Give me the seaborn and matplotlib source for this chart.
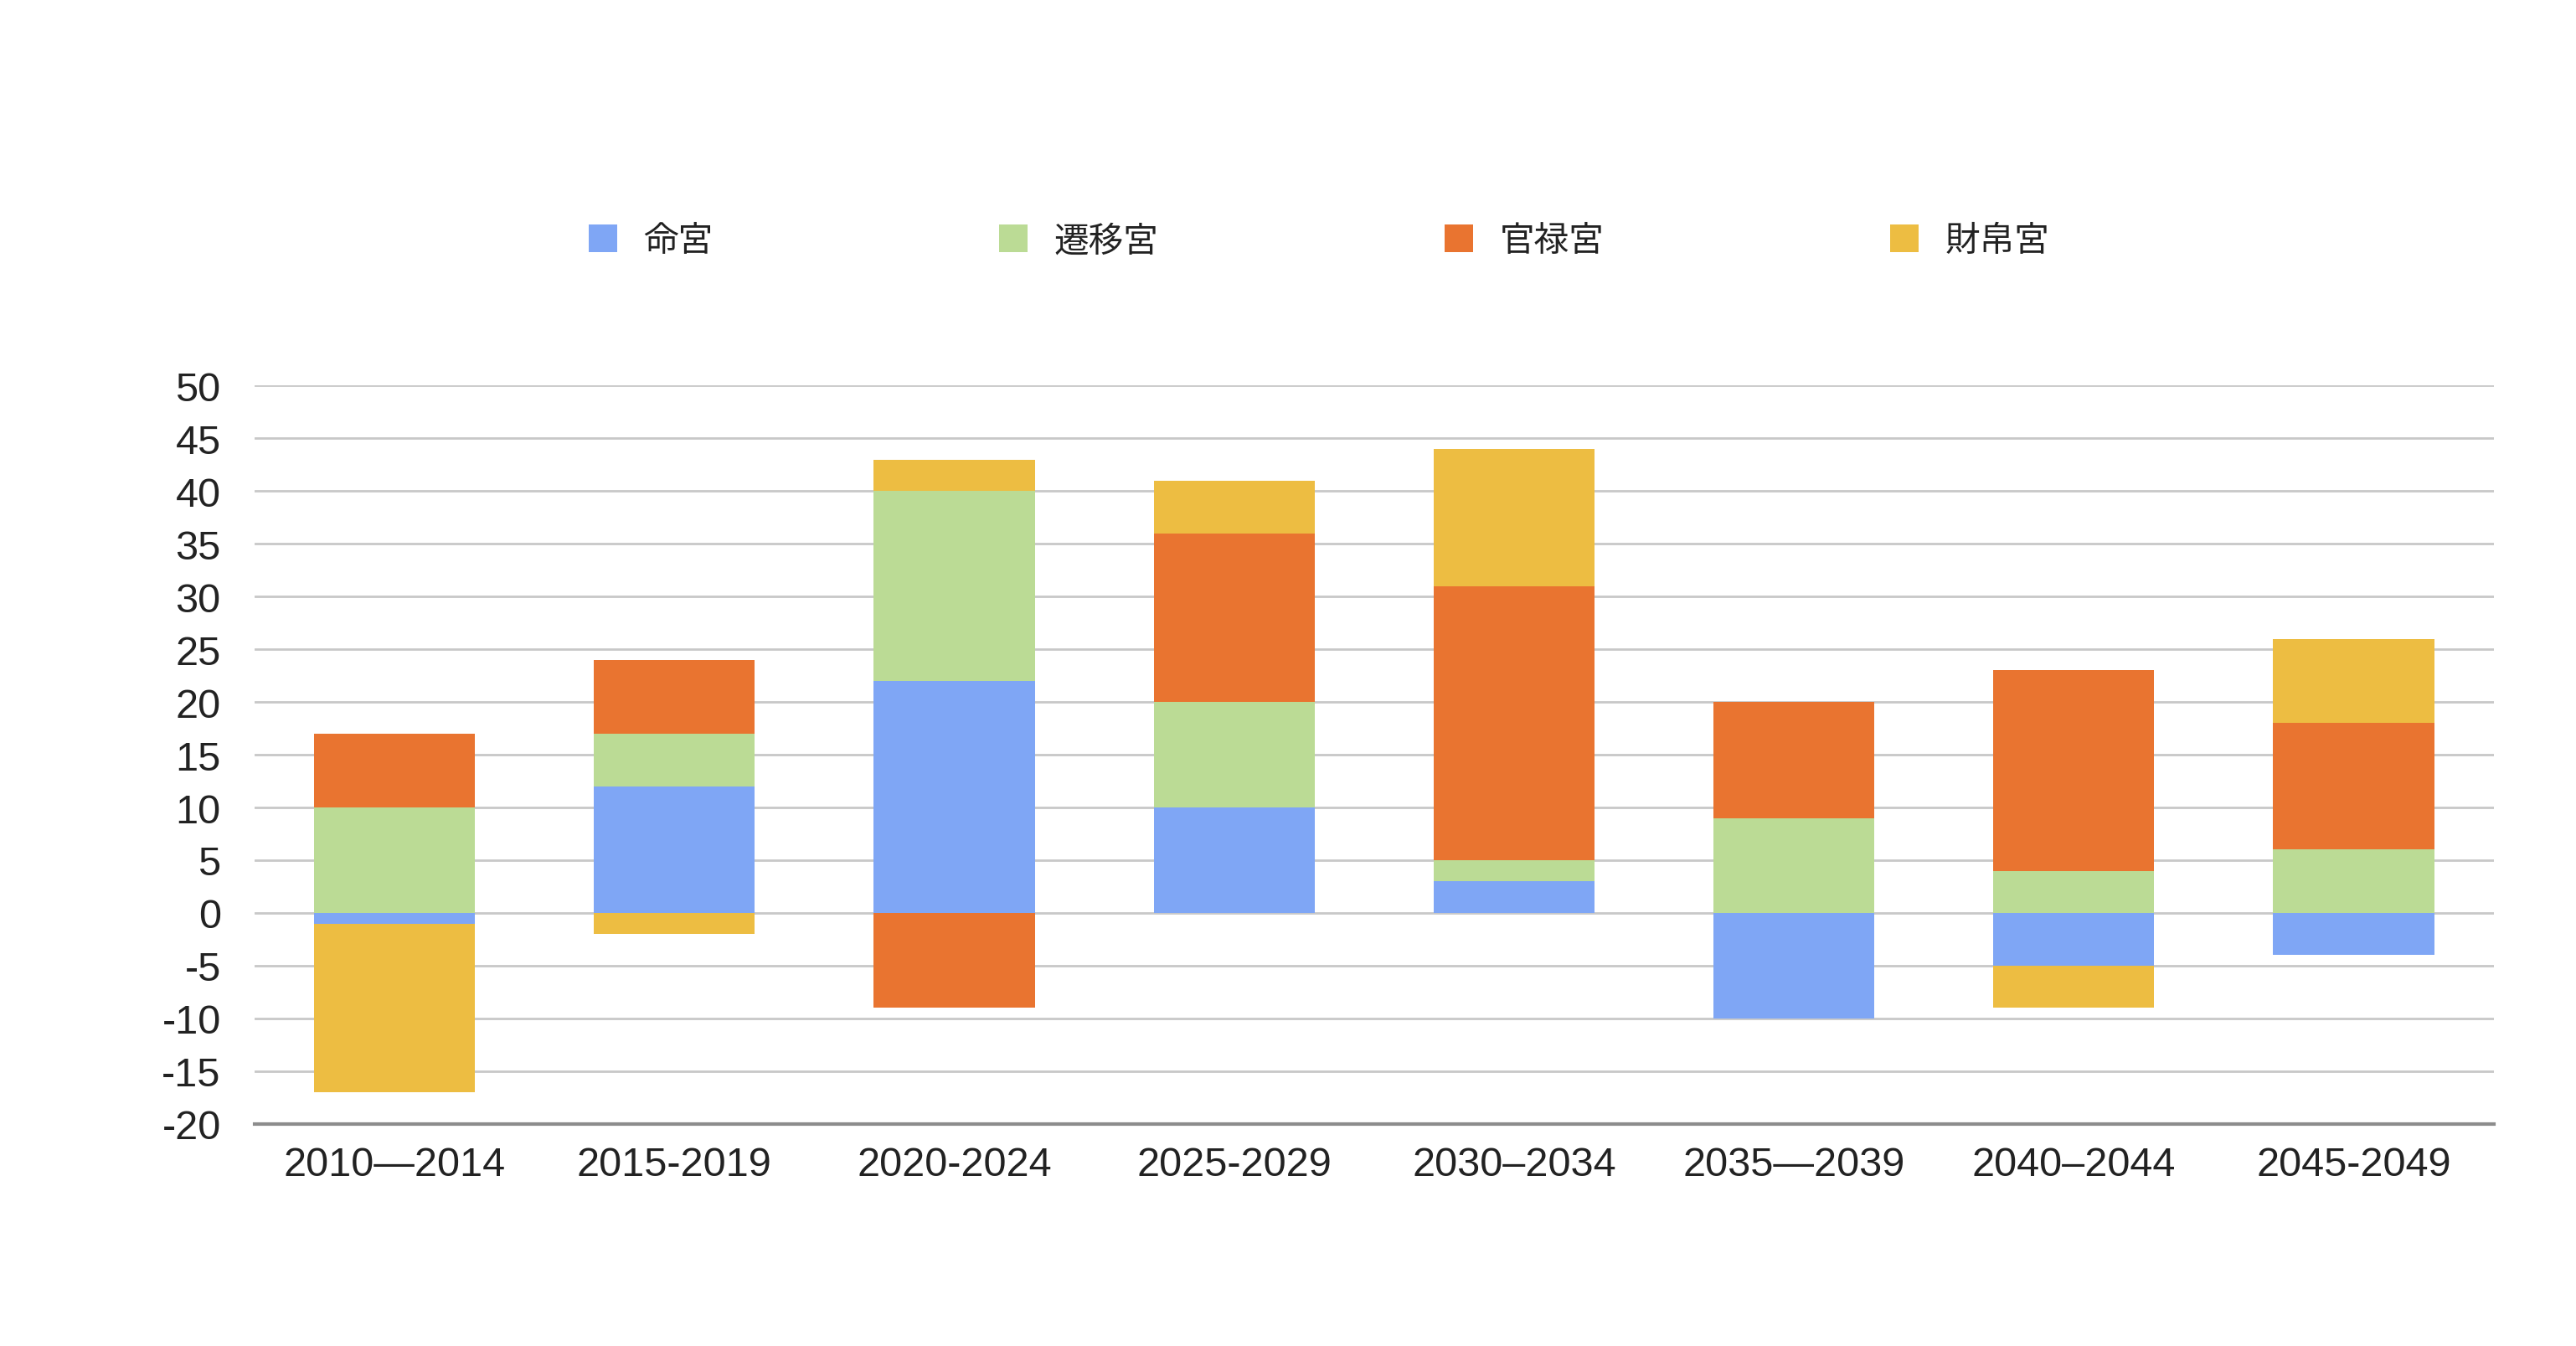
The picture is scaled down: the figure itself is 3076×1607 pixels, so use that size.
import numpy as np
import pandas as pd
import matplotlib
matplotlib.use("Agg")
import matplotlib.pyplot as plt
from matplotlib.patches import Patch
import seaborn as sns

periods = ["2010—2014", "2015-2019", "2020-2024", "2025-2029",
           "2030–2034", "2035—2039", "2040–2044", "2045-2049"]
series_names = ["命宮", "遷移宮", "官禄宮", "財帛宮"]
ming = [-1, 12, 22, 10, 3, -10, -5, -4]
qianyi = [10, 5, 18, 10, 2, 9, 4, 6]
guanlu = [7, 7, -9, 16, 26, 11, 19, 12]
caibo = [-16, -2, 3, 5, 13, 0, -4, 8]
colors = ["#7FA6F5", "#BBDB95", "#E97430", "#EDBD42"]

sns.set_theme(style="white")
plt.rcParams["font.family"] = ["Liberation Sans", "Noto Sans CJK JP", "DejaVu Sans"]

fig = plt.figure(figsize=(30.76, 16.08), dpi=100)
ax = fig.add_axes([0.0988, 0.165, 0.8692, 0.548])

# stack positives upward and negatives downward, per period
pos_base = np.zeros(len(periods))
neg_base = np.zeros(len(periods))
for name, vals, col in zip(series_names, [ming, qianyi, guanlu, caibo], colors):
    vals = np.array(vals, dtype=float)
    bottom = np.where(vals >= 0, pos_base, neg_base)
    df = pd.DataFrame({"period": periods, "value": vals})
    sns.barplot(data=df, x="period", y="value", order=periods, color=col,
                width=0.575, errorbar=None, bottom=bottom, saturation=1,
                linewidth=0, ax=ax, zorder=3)
    pos_base += np.where(vals > 0, vals, 0)
    neg_base += np.where(vals < 0, vals, 0)

ax.set_xlim(-0.5, len(periods) - 0.5)
ax.set_ylim(-20, 50)
ax.set_yticks(range(-20, 51, 5))
ax.set_yticklabels([str(v) for v in range(-20, 51, 5)], fontsize=35, color="#222222")
ax.set_xticks(range(len(periods)))
ax.set_xticklabels(periods, fontsize=35, color="#222222")
ax.set_xticks(np.arange(-0.5, len(periods), 1.0), minor=True)
ax.tick_params(axis="x", which="major", length=0, pad=19)
ax.tick_params(axis="x", which="minor", direction="in", length=12, width=2.5, color="#8c8c8c")
ax.tick_params(axis="y", length=0, pad=29)
ax.set_xlabel("")
ax.set_ylabel("")

ax.grid(axis="y", color="#c8c8c8", linewidth=2, zorder=0)
ax.grid(axis="x", visible=False)
for side in ["top", "right", "left"]:
    ax.spines[side].set_visible(False)
ax.spines["bottom"].set_color("#8c8c8c")
ax.spines["bottom"].set_linewidth(3)
ax.spines["bottom"].set_zorder(4)

handles = [Patch(facecolor=c, edgecolor="none") for c in colors]
fig.legend(handles, series_names, loc="center", bbox_to_anchor=(0.512, 0.8205),
           ncol=4, frameon=False, prop={"family": ["Noto Sans CJK JP"], "size": 30},
           handlelength=0.82, handleheight=0.85, handletextpad=0.75,
           columnspacing=8.2, labelcolor="#222222")

fig.savefig("out.png", dpi=100, facecolor="white")
